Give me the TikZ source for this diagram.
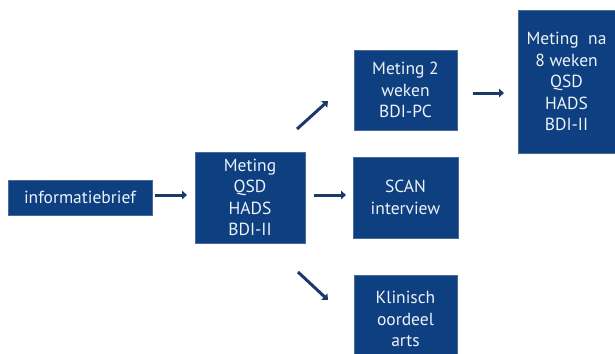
\documentclass[tikz,border=0pt]{standalone}
\usepackage{fontspec}
\setmainfont{PT Sans}
\usetikzlibrary{arrows.meta}
\definecolor{boxblue}{HTML}{0E3F80}
\definecolor{boxedge}{HTML}{4A6A98}
\definecolor{arrowblue}{HTML}{1A3A6A}
\definecolor{txt}{HTML}{EEF2F7}
\begin{document}
\begin{tikzpicture}[x=1pt,y=-1pt,
  bluebox/.style={draw=boxedge,line width=0.8pt,fill=boxblue,text=txt,align=center,
    inner sep=0pt,font=\fontsize{17.5}{21.5}\selectfont},
  flow/.style={draw=arrowblue,line width=3pt,-{Triangle[length=5pt,width=8.5pt]}}]
\useasboundingbox (0,0) rectangle (615,353);
\clip (0,0) rectangle (615,353);
\fill[white] (0,0) rectangle (615,353);
\node[bluebox,minimum width=144pt,minimum height=35pt] (info) at (80,197.5) {informatiebrief};
\node[bluebox,minimum width=110pt,minimum height=91pt] (m1) at (250,197.5) {Meting\\QSD\\HADS\\BDI-II};
\node[bluebox,minimum width=103pt,minimum height=80pt] (m2) at (405.5,90) {Meting 2\\weken\\BDI-PC};
\node[bluebox,minimum width=105pt,minimum height=81pt] (scan) at (405.5,197.5) {SCAN\\interview};
\node[bluebox,minimum width=103pt,minimum height=88pt] (klin) at (405.5,319) {Klinisch\\oordeel\\arts};
\node[bluebox,minimum width=97pt,minimum height=143pt] (m8) at (566.5,81.5) {Meting\ \ na\\8 weken\\QSD\\HADS\\BDI-II};
\coordinate (a1s) at (155,195); \coordinate (a1e) at (187,195);
\coordinate (a2s) at (314,195); \coordinate (a2e) at (346,195);
\coordinate (a3s) at (297,129); \coordinate (a3e) at (328,101);
\coordinate (a4s) at (298,272); \coordinate (a4e) at (328,300);
\coordinate (a5s) at (473,93); \coordinate (a5e) at (504,93);
\draw[flow] (a1s) -- (a1e);
\draw[flow] (a2s) -- (a2e);
\draw[flow] (a3s) -- (a3e);
\draw[flow] (a4s) -- (a4e);
\draw[flow] (a5s) -- (a5e);
\end{tikzpicture}
\end{document}
